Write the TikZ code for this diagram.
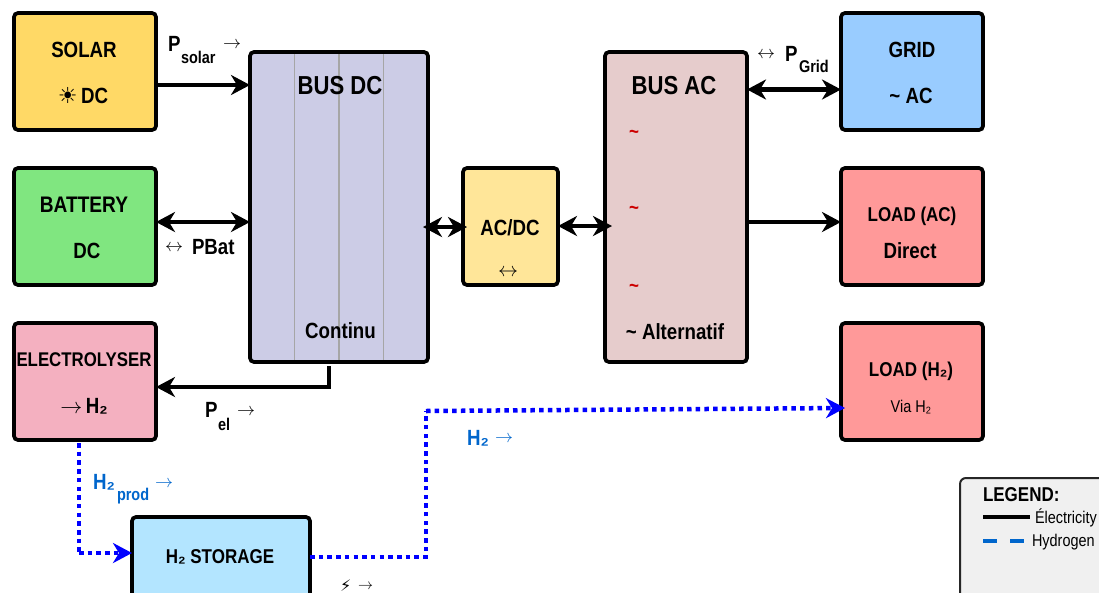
\documentclass[tikz,border=0pt]{standalone}
\usepackage{fix-cm}
\usepackage{fontspec}
\setmainfont[FakeStretch=0.85]{Liberation Sans}
\newfontfamily\djv{DejaVu Sans}
\usetikzlibrary{arrows.meta}
\definecolor{csolar}{HTML}{FFD966}
\definecolor{cbatt}{HTML}{80E680}
\definecolor{celec}{HTML}{F4B0C0}
\definecolor{cstore}{HTML}{B3E5FF}
\definecolor{cbusdc}{HTML}{CCCCE6}
\definecolor{cacdc}{HTML}{FFE699}
\definecolor{cbusac}{HTML}{E6CCCC}
\definecolor{cgrid}{HTML}{99CCFF}
\definecolor{cload}{HTML}{FF9999}
\definecolor{clegend}{HTML}{F0F0F0}
\definecolor{clabel}{HTML}{0066CC}
\definecolor{ctilde}{HTML}{CC0000}
\definecolor{cdiv}{HTML}{A6A6A6}
\newcommand{\fsz}[1]{\fontsize{#1}{#1}\selectfont}
\newcommand{\arr}{\(\rightarrow\)}
\newcommand{\darr}{\(\leftrightarrow\)}
\newcommand{\tld}{\textasciitilde}
\tikzset{
  blockbox/.style={draw=black,line width=3.7pt,rounded corners=4pt,inner sep=0pt,outer sep=0pt},
  txt/.style={inner sep=0pt,outer sep=0pt,font=\fsz{22}\bfseries,align=center},
  lbl/.style={txt,anchor=west},
  pw/.style={draw=black,line width=4.4pt,-{Stealth[length=19pt,width=20pt,inset=6pt]}},
  pwb/.style={draw=black,line width=4.4pt,{Stealth[length=19pt,width=20pt,inset=6pt]}-{Stealth[length=19pt,width=20pt,inset=6pt]}},
  hy/.style={draw=blue,line width=4.5pt,dash pattern=on 4.5pt off 4.2pt},
  hyarr/.style={hy,-{Stealth[length=19pt,width=20pt,inset=6pt,blue]}},
}
\begin{document}
\begin{tikzpicture}[x=1pt,y=-1pt]
\useasboundingbox (0,0) rectangle (1099,592);
\clip (0,0) rectangle (1099,592);
% blocks
\node[blockbox,fill=csolar,minimum width=142pt,minimum height=117pt] (solar) at (85,71.5) {};
\node[blockbox,fill=cbatt,minimum width=142pt,minimum height=117pt] (batt) at (85,226.5) {};
\node[blockbox,fill=celec,minimum width=142pt,minimum height=117pt] (elec) at (85,381.5) {};
\node[blockbox,fill=cstore,minimum width=178pt,minimum height=80pt] (store) at (221,557) {};
\node[blockbox,fill=cbusdc,minimum width=178pt,minimum height=310pt] (busdc) at (339,207) {};
\node[blockbox,fill=cacdc,minimum width=95pt,minimum height=117pt] (acdc) at (510.5,226.5) {};
\node[blockbox,fill=cbusac,minimum width=142pt,minimum height=310pt] (busac) at (676,207) {};
\node[blockbox,fill=cgrid,minimum width=142pt,minimum height=117pt] (grid) at (912,71.5) {};
\node[blockbox,fill=cload,minimum width=142pt,minimum height=117pt] (loadac) at (912,226.5) {};
\node[blockbox,fill=cload,minimum width=142pt,minimum height=117pt] (loadh) at (912,381.5) {};
\node[draw=black!85,line width=2pt,rounded corners=6pt,fill=clegend,minimum width=150pt,minimum height=130pt,inner sep=0pt] (legend) at (1035,543) {};
% bus DC dividers
\foreach \dx in {294.5,339,383.5}
  \draw[cdiv,line width=1.2pt] (\dx,54) -- (\dx,360);
% power connectors
\draw[pw] (solar.east |- 0,85) -- (busdc.west |- 0,85);
\draw[pwb] (batt.east |- 0,222) -- (busdc.west |- 0,222);
\draw[pwb] ([xshift=-5pt]busdc.east |- 0,227) -- ([xshift=4pt]acdc.west |- 0,227);
\draw[pwb] (acdc.east |- 0,226) -- ([xshift=7pt]busac.west |- 0,226);
\draw[pwb] (busac.east |- 0,89.5) -- (grid.west |- 0,89.5);
\draw[pw] (busac.east |- 0,222) -- (loadac.west |- 0,222);
\draw[pw,rounded corners=0pt] (329,366) |- (elec.east |- 0,387);
% hydrogen connectors
\coordinate (hstart) at (79,443);
\coordinate (hbend) at (79,553);
\coordinate (sout) at (store.east |- 0,557);
\coordinate (sbend) at (426,557);
\coordinate (stop) at (426,411);
\draw[hy] (hstart) -- (hbend);
\draw[hyarr] (hbend) -- (store.west |- 0,553);
\draw[hy] (sout) -- (sbend) -- (stop);
\draw[hyarr] (stop) -- ([xshift=4pt]loadh.west |- 0,408);
% block texts
\node[txt] (t1) at (84,49.5) {SOLAR};
\node[txt] (t2) at (83,96) {{\djv\mdseries\fsz{22}☀}\,DC};
\node[txt,font=\fsz{22.5}\bfseries] (t3) at (84,204.5) {BATTERY};
\node[txt] (t4) at (87,251) {DC};
\node[txt,font=\fsz{19.8}\bfseries] (t5) at (84,360) {ELECTROLYSER};
\node[txt] (t6) at (84,406) {\arr\,H₂};
\node[txt,font=\fsz{20}\bfseries] (t7) at (220,557) {H₂ STORAGE};
\node[txt,font=\fsz{26}\bfseries] (t8) at (340,85.5) {BUS DC};
\node[txt] (t9) at (340.5,331) {Continu};
\node[txt] (t10) at (510,228) {AC/DC};
\node[txt,font=\fsz{20}] (t11) at (508,273) {\darr};
\node[txt,font=\fsz{26}\bfseries] (t12) at (674,85.5) {BUS AC};
\foreach \ty/\tn in {132/a,208/b,286/c}
  \node[txt,font=\fsz{20}\bfseries,text=ctilde] (tl\tn) at (634,\ty+2.5) {\tld};
\node[txt] (t13) at (675,332) {\tld\ Alternatif};
\node[txt] (t14) at (912,49.5) {GRID};
\node[txt] (t15) at (911,96) {\tld\ AC};
\node[txt,font=\fsz{20}\bfseries] (t16) at (912,216.5) {LOAD (AC)};
\node[txt] (t17) at (910,251) {Direct};
\node[txt,font=\fsz{20}\bfseries] (t18) at (911,371.5) {LOAD (H₂)};
\node[txt,font=\fsz{17}] (t19) at (911,407.5) {Via H₂};
% connector labels
\node[lbl] (p1) at (168,43.5) {P};
\node[lbl,font=\fsz{17}\bfseries] (p2) at (181,57) {solar};
\node[lbl,font=\fsz{18}] (p3) at (223,45) {\arr};
\node[lbl,font=\fsz{18}] (b1) at (165,248) {\darr};
\node[lbl] (b2) at (192,247) {PBat};
\node[lbl,font=\fsz{18}] (g1) at (757,55) {\darr};
\node[lbl] (g2) at (785,54) {P};
\node[lbl,font=\fsz{17}\bfseries] (g3) at (799,66) {Grid};
\node[lbl] (e1) at (205,410) {P};
\node[lbl,font=\fsz{17}\bfseries] (e2) at (218,424) {el};
\node[lbl,font=\fsz{18}] (e3) at (237,412) {\arr};
\node[lbl,text=clabel] (h1) at (93,482) {H₂};
\node[lbl,font=\fsz{17}\bfseries,text=clabel] (h2) at (117,496) {prod};
\node[lbl,font=\fsz{18},text=clabel] (h3) at (155,484) {\arr};
\node[lbl,text=clabel] (h4) at (467,438) {H₂};
\node[lbl,font=\fsz{18},text=clabel] (h5) at (495,439) {\arr};
\node[lbl,font=\fsz{16}\mdseries\djv] (z1) at (340,586) {⚡};
\node[lbl,font=\fsz{15}] (z2) at (358,587) {\arr};
% legend
\node[lbl,font=\fsz{20}\bfseries] (lg0) at (983,495) {LEGEND:};
\coordinate (la) at (983,517);
\coordinate (lb) at (1030,517);
\coordinate (lc) at (983,541);
\coordinate (ld) at (1024,541);
\draw[black,line width=4.8pt] (la) -- (lb);
\draw[clabel,line width=4.4pt,dash pattern=on 14pt off 13pt] (lc) -- (ld);
\node[lbl,font=\fsz{17}] (lg1) at (1035,518) {Électricity};
\node[lbl,font=\fsz{17}] (lg2) at (1032,542) {Hydrogen};
\end{tikzpicture}
\end{document}
